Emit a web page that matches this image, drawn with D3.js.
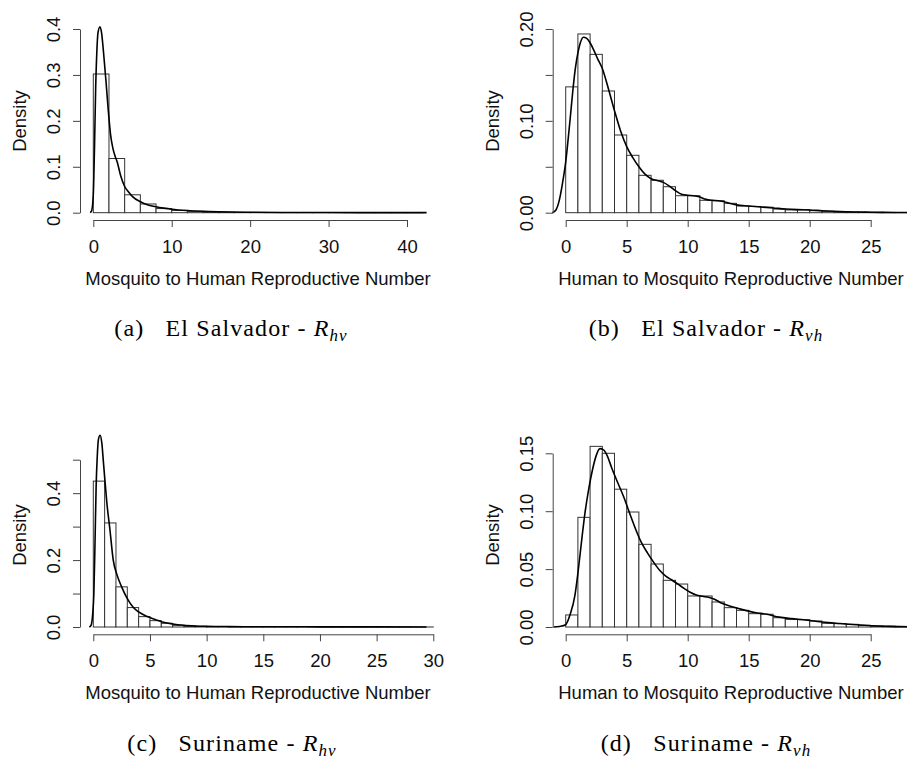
<!DOCTYPE html>
<html>
<head>
<meta charset="utf-8">
<script src="https://cdn.jsdelivr.net/npm/d3@7"></script>
<style>
  html, body { margin: 0; padding: 0; background: #fff; }
  svg { display: block; }
</style>
</head>
<body>
<script>
// (a) El Salvador - Rhv : histogram densities, bins of width 2 starting at 0
var binsEsHv = [0.302, 0.118, 0.039, 0.019, 0.009, 0.005, 0.003, 0.0015, 0.001, 0.0007,
  0.0005, 0.0004, 0.0003, 0.0002, 0.0002, 0.0001, 0.0001, 0.0001, 0.0001, 0.0001, 0.0001];
var curveEsHvX = [-0.4, -0.2, 0, 0.15, 0.3, 0.45, 0.6, 0.85, 1.05, 1.3, 1.6, 1.9, 2.2, 2.5, 2.8,
  3.0, 3.5, 4.0, 4.5, 5.0, 6.0, 7, 8, 9, 10, 12, 14, 16, 20, 25, 30, 36, 42.5];
var curveEsHvY = [0, 0.005, 0.04, 0.14, 0.27, 0.35, 0.392, 0.405, 0.392, 0.35, 0.29, 0.225, 0.17,
  0.14, 0.122, 0.113, 0.08, 0.057, 0.045, 0.035, 0.024, 0.017, 0.013, 0.01, 0.0076, 0.0047,
  0.003, 0.002, 0.001, 0.0005, 0.0003, 0.0002, 0.0001];

// (b) El Salvador - Rvh : bins of width 1
var binsEsVh = [0.137, 0.1946, 0.1724, 0.1325, 0.0846, 0.0625, 0.0407, 0.0353, 0.0283, 0.0185,
  0.0185, 0.0135, 0.013, 0.0102, 0.0073, 0.0068, 0.006, 0.004, 0.003, 0.0032, 0.0022, 0.0015,
  0.001, 0.0008, 0.0005, 0.0004, 0.0003, 0.0002];
var curveEsVhX = [-1.1, -0.8, -0.5, -0.25, 0, 0.2, 0.4, 0.6, 0.8, 1.0, 1.2, 1.45, 1.7, 2.0, 2.3,
  2.6, 3.0, 3.5, 4.0, 4.5, 5.0, 5.5, 6.0, 6.5, 7.0, 7.5, 8.0, 8.5, 9.0, 9.5, 10.0, 10.5, 11, 11.5,
  12, 12.5, 13, 13.5, 14, 15, 16, 17, 18, 19, 20, 21, 22, 23, 24, 25, 26, 28];
var curveEsVhY = [0, 0.003, 0.015, 0.033, 0.055, 0.08, 0.107, 0.135, 0.158, 0.174, 0.185, 0.191,
  0.19, 0.185, 0.177, 0.168, 0.157, 0.135, 0.111, 0.089, 0.072, 0.06, 0.05, 0.042, 0.037, 0.035,
  0.033, 0.029, 0.024, 0.02, 0.019, 0.0185, 0.017, 0.0145, 0.0135, 0.013, 0.012, 0.01, 0.0085,
  0.0073, 0.0062, 0.0052, 0.004, 0.0033, 0.003, 0.0022, 0.0015, 0.001, 0.0007, 0.0005, 0.0003,
  0.0002];

// (c) Suriname - Rhv : bins of width 1
var binsSuHv = [0.436, 0.311, 0.12, 0.058, 0.031, 0.019, 0.011, 0.005, 0.003, 0.002, 0.001,
  0.0008, 0.0006, 0.0005, 0.0004, 0.0003, 0.0003, 0.0002, 0.0002, 0.0002, 0.0001, 0.0001,
  0.0001, 0.0001, 0.0001, 0.0001, 0.0001, 0.0001, 0.0001, 0.0001];
var curveSuHvX = [-0.35, -0.2, -0.05, 0.05, 0.15, 0.25, 0.35, 0.45, 0.6, 0.75, 0.9, 1.03, 1.2,
  1.47, 1.76, 2.1, 2.5, 3.0, 3.5, 4.0, 4.7, 5.5, 6, 7, 8, 9, 10, 12, 15, 20, 25, 29.4];
var curveSuHvY = [0, 0.005, 0.04, 0.1, 0.25, 0.42, 0.51, 0.56, 0.573, 0.55, 0.49, 0.436, 0.37,
  0.29, 0.2, 0.155, 0.12, 0.085, 0.06, 0.045, 0.032, 0.022, 0.016, 0.009, 0.005, 0.003, 0.002,
  0.0012, 0.0008, 0.0005, 0.0003, 0.0002];

// (d) Suriname - Rvh : bins of width 1
var binsSuVh = [0.0104, 0.0947, 0.156, 0.150, 0.119, 0.0993, 0.0714, 0.0544, 0.0403, 0.0371,
  0.0268, 0.0268, 0.0216, 0.0167, 0.0144, 0.0115, 0.011, 0.008, 0.0066, 0.0063, 0.0052, 0.0032,
  0.0029, 0.0023, 0.0014, 0.001, 0.0007, 0.0005];
var curveSuVhX = [-1.0, -0.5, 0, 0.35, 0.76, 1.03, 1.31, 1.6, 1.9, 2.2, 2.5, 2.8, 3.1, 3.4, 3.75,
  4.25, 4.75, 5.25, 5.75, 6.2, 6.7, 7.2, 7.7, 8.2, 8.7, 9.2, 9.7, 10.2, 10.7, 11.2, 11.7, 12.2,
  12.7, 13.5, 14.5, 15.5, 16.5, 17.5, 18.5, 19.5, 20.5, 21.5, 22.5, 23.5, 24.5, 25.5, 26.5, 28];
var curveSuVhY = [0, 0.0005, 0.002, 0.0104, 0.0276, 0.049, 0.075, 0.1, 0.12, 0.136, 0.148, 0.154,
  0.153, 0.148, 0.138, 0.125, 0.1125, 0.098, 0.084, 0.073, 0.064, 0.056, 0.049, 0.044, 0.0406,
  0.037, 0.0334, 0.03, 0.0276, 0.0265, 0.0257, 0.024, 0.021, 0.018, 0.015, 0.0125, 0.011, 0.0085,
  0.0072, 0.0062, 0.005, 0.0038, 0.003, 0.0022, 0.0015, 0.0009, 0.0005, 0.0002];

// ticks
var xTicksEsHv = [0, 10, 20, 30, 40];
var xTicksVh = [0, 5, 10, 15, 20, 25];
var xTicksSuHv = [0, 5, 10, 15, 20, 25, 30];
var yTicksEsHv = [0, 0.1, 0.2, 0.3, 0.4];
var yTicksEsVh = [0, 0.05, 0.1, 0.15, 0.2];
var yTicksSuHv = [0, 0.1, 0.2, 0.3, 0.4, 0.5];
var yTicksSuVh = [0, 0.05, 0.1, 0.15];

var sansFont = '"Liberation Sans", Arial, Helvetica, sans-serif';
var serifFont = '"Liberation Serif", "Times New Roman", serif';

var svg = d3.select('body').append('svg')
  .attr('width', 907).attr('height', 759);
svg.append('rect').attr('width', 907).attr('height', 759).attr('fill', '#fff');

function drawPanel(p) {
  var x = d3.scaleLinear().domain([p.xTicks[0], p.xTicks[p.xTicks.length - 1]]).range(p.xRange);
  var y = d3.scaleLinear().domain([0, p.yTicks[p.yTicks.length - 1]]).range(p.yRange);
  var g = svg.append('g');

  // histogram bars
  g.selectAll('rect.bar')
    .data(p.bins)
    .enter()
    .append('rect')
    .attr('class', 'bar')
    .attr('x', function (d, i) { return x(i * p.binWidth); })
    .attr('width', x(p.binWidth) - x(0))
    .attr('y', function (d) { return y(d); })
    .attr('height', function (d) { return y(0) - y(d); })
    .attr('fill', '#fff')
    .attr('stroke', '#333')
    .attr('stroke-width', 1);

  // density curve
  var line = d3.line()
    .x(function (d) { return x(d[0]); })
    .y(function (d) { return y(d[1]); })
    .curve(d3.curveMonotoneX);
  g.append('path')
    .datum(d3.zip(p.curveX, p.curveY))
    .attr('d', line)
    .attr('fill', 'none')
    .attr('stroke', '#000')
    .attr('stroke-width', 1.6);

  // x axis
  var xa = g.append('g')
    .attr('transform', 'translate(0,' + p.xAxisY + ')')
    .call(d3.axisBottom(x).tickValues(p.xTicks).tickSize(7).tickSizeOuter(0)
      .tickPadding(13).tickFormat(d3.format('d')));

  // y axis, labels rotated like base R
  var ya = g.append('g')
    .attr('transform', 'translate(' + p.yAxisX + ',0)')
    .call(d3.axisLeft(y).tickValues(p.yTicks).tickSize(7).tickSizeOuter(0)
      .tickFormat(function (d, i) {
        return (p.skipOdd && i % 2) ? '' : d3.format(p.yFormat)(d);
      }));
  ya.selectAll('.tick text')
    .attr('transform', 'rotate(-90)')
    .attr('x', 0).attr('y', -20).attr('dy', 0)
    .attr('text-anchor', 'middle');

  [xa, ya].forEach(function (a) {
    a.attr('font-family', sansFont).attr('font-size', 18.5);
    a.selectAll('path, line').attr('stroke', '#444');
    a.selectAll('text').attr('fill', '#111');
  });

  // axis titles
  g.append('text')
    .attr('x', p.titleX).attr('y', p.titleY)
    .attr('text-anchor', 'middle')
    .attr('font-family', sansFont).attr('font-size', 18.5).attr('fill', '#111')
    .text(p.xTitle);
  g.append('text')
    .attr('transform', 'translate(' + p.densX + ',' + p.densY + ') rotate(-90)')
    .attr('text-anchor', 'middle')
    .attr('font-family', sansFont).attr('font-size', 18.5).attr('fill', '#111')
    .text('Density');

  // caption
  var cap = g.append('text')
    .attr('x', p.capX).attr('y', p.capY)
    .attr('text-anchor', 'middle')
    .attr('letter-spacing', 1.1)
    .attr('font-family', serifFont).attr('font-size', 24).attr('fill', '#000');
  cap.append('tspan').attr('xml:space', 'preserve').text(p.capTag + '\u00a0\u00a0\u00a0' + p.capText + ' - ');
  cap.append('tspan').attr('font-style', 'italic').text('R');
  cap.append('tspan').attr('font-style', 'italic').attr('font-size', 17)
    .attr('dy', 5).text(p.capSub);
}

drawPanel({
  bins: binsEsHv, binWidth: 2, curveX: curveEsHvX, curveY: curveEsHvY,
  xTicks: xTicksEsHv, yTicks: yTicksEsHv, yFormat: '.1f', skipOdd: false,
  xRange: [93.3, 407], yRange: [212.7, 29], xAxisY: 220, yAxisX: 80,
  xTitle: 'Mosquito to Human Reproductive Number', titleX: 258, titleY: 285,
  densX: 26, densY: 121, capX: 231, capY: 336,
  capTag: '(a)', capText: 'El Salvador', capSub: 'hv'
});
drawPanel({
  bins: binsEsVh, binWidth: 1, curveX: curveEsVhX, curveY: curveEsVhY,
  xTicks: xTicksVh, yTicks: yTicksEsVh, yFormat: '.2f', skipOdd: true,
  xRange: [565.7, 870.7], yRange: [212.7, 29], xAxisY: 220, yAxisX: 552.7,
  xTitle: 'Human to Mosquito Reproductive Number', titleX: 731, titleY: 285,
  densX: 499, densY: 121, capX: 706, capY: 336,
  capTag: '(b)', capText: 'El Salvador', capSub: 'vh'
});
drawPanel({
  bins: binsSuHv, binWidth: 1, curveX: curveSuHvX, curveY: curveSuHvY,
  xTicks: xTicksSuHv, yTicks: yTicksSuHv, yFormat: '.1f', skipOdd: true,
  xRange: [93.3, 433.3], yRange: [627, 459.7], xAxisY: 634.3, yAxisX: 80,
  xTitle: 'Mosquito to Human Reproductive Number', titleX: 258, titleY: 699.3,
  densX: 26, densY: 535, capX: 232, capY: 751,
  capTag: '(c)', capText: 'Suriname', capSub: 'hv'
});
drawPanel({
  bins: binsSuVh, binWidth: 1, curveX: curveSuVhX, curveY: curveSuVhY,
  xTicks: xTicksVh, yTicks: yTicksSuVh, yFormat: '.2f', skipOdd: false,
  xRange: [565.7, 870.7], yRange: [627, 453.3], xAxisY: 634.3, yAxisX: 552.7,
  xTitle: 'Human to Mosquito Reproductive Number', titleX: 731, titleY: 699.3,
  densX: 499, densY: 535, capX: 706, capY: 751,
  capTag: '(d)', capText: 'Suriname', capSub: 'vh'
});
</script>
</body>
</html>
